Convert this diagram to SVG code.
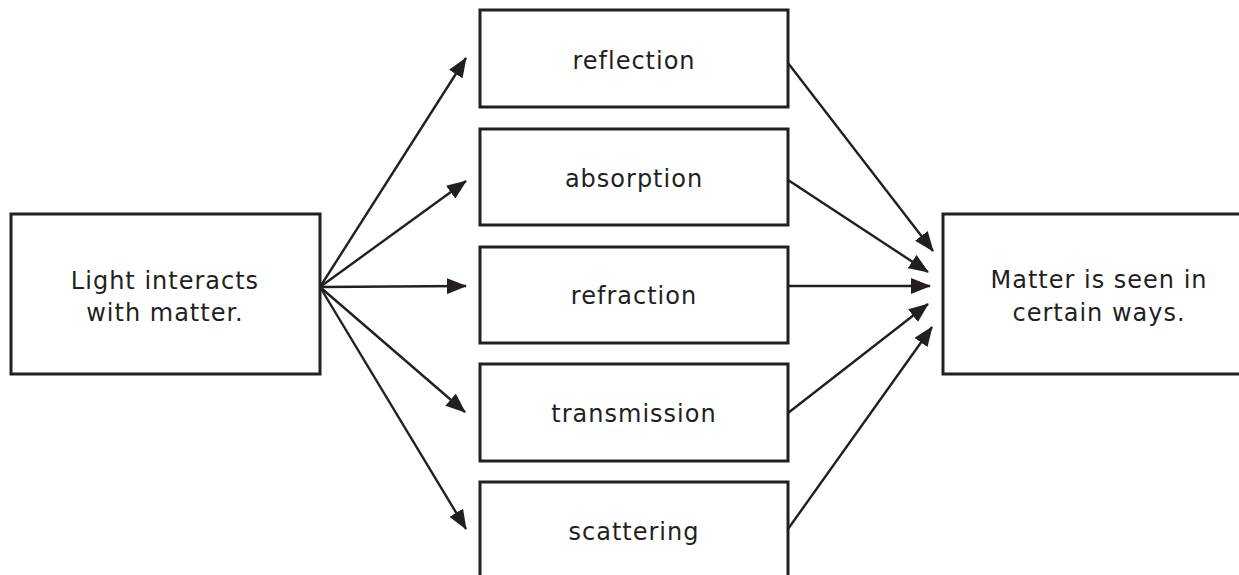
<svg xmlns="http://www.w3.org/2000/svg" width="1239" height="575" viewBox="0 0 1239 575">
<style>
.box{fill:#fff;stroke:#231f20;stroke-width:3}
.lbl{font-family:"DejaVu Sans",sans-serif;font-size:24px;fill:#231f20;text-anchor:middle;letter-spacing:1px}
.con{stroke:#231f20;stroke-width:2.4;fill:none;marker-end:url(#ah)}
</style>
<defs>
<marker id="ah" markerUnits="userSpaceOnUse" markerWidth="20" markerHeight="16" viewBox="0 0 20 16" refX="19" refY="8" orient="auto">
<path d="M0,0 L20,8 L0,16 Z" fill="#231f20"/>
</marker>
</defs>
<rect width="1239" height="575" fill="#fff"/>
<g id="connectors">
<line class="con" x1="320" y1="287" x2="466" y2="58"/>
<line class="con" x1="320" y1="287" x2="466" y2="181"/>
<line class="con" x1="320" y1="287" x2="466" y2="286"/>
<line class="con" x1="320" y1="287" x2="465" y2="412"/>
<line class="con" x1="320" y1="287" x2="466" y2="529"/>
<line class="con" x1="788" y1="63" x2="933" y2="251"/>
<line class="con" x1="788" y1="180" x2="928" y2="272"/>
<line class="con" x1="788" y1="286" x2="930" y2="286"/>
<line class="con" x1="788" y1="413" x2="928" y2="304"/>
<line class="con" x1="788" y1="529" x2="932" y2="327"/>
</g>
<g id="light">
<rect class="box" x="11" y="214" width="309" height="160"/>
<text class="lbl" x="165" y="289">Light interacts</text>
<text class="lbl" x="165" y="321">with matter.</text>
</g>
<g id="reflection">
<rect class="box" x="480" y="10" width="308" height="97"/>
<text class="lbl" x="634" y="69">reflection</text>
</g>
<g id="absorption">
<rect class="box" x="480" y="129" width="308" height="96"/>
<text class="lbl" x="634" y="187">absorption</text>
</g>
<g id="refraction">
<rect class="box" x="480" y="247" width="308" height="96"/>
<text class="lbl" x="634" y="304">refraction</text>
</g>
<g id="transmission">
<rect class="box" x="480" y="364" width="308" height="97"/>
<text class="lbl" x="634" y="422">transmission</text>
</g>
<g id="scattering">
<rect class="box" x="480" y="482" width="308" height="100"/>
<text class="lbl" x="634" y="540">scattering</text>
</g>
<g id="matter">
<rect class="box" x="943" y="214" width="310" height="160"/>
<text class="lbl" x="1099" y="288">Matter is seen in</text>
<text class="lbl" x="1099" y="321">certain ways.</text>
</g>
</svg>
